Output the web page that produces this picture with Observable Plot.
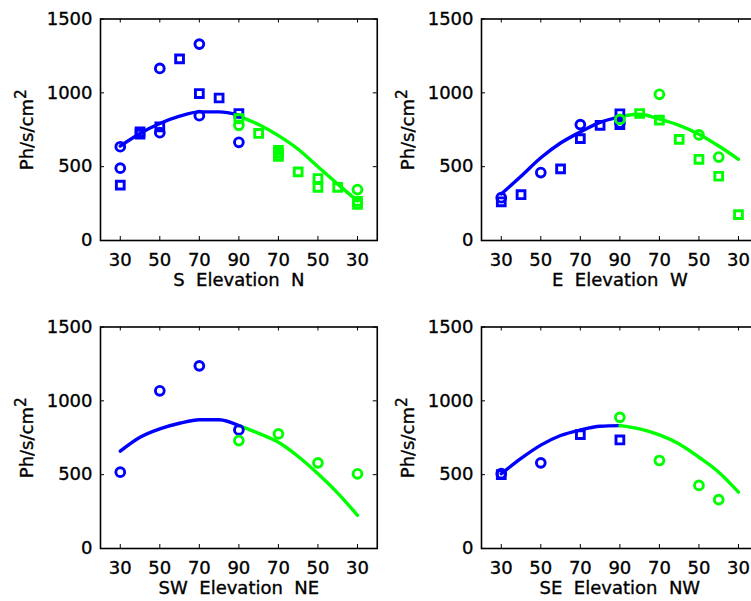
<!DOCTYPE html>
<html><head><meta charset="utf-8">
<script src="https://cdn.jsdelivr.net/npm/d3@7"></script>
<script src="https://cdn.jsdelivr.net/npm/@observablehq/plot@0.6"></script>
<style>
html,body{margin:0;padding:0;background:#fff;overflow:hidden;width:751px;height:601px}
#wrap{position:relative;width:751px;height:601px;overflow:hidden;background:#fff}
.panel{position:absolute;width:380px;height:300px}
.panel svg{max-width:none !important;width:380px;height:300px}
.panel svg g[aria-label$="tick label"] text, .panel svg g[aria-label$="axis label"] text{stroke:#000;stroke-width:0.35px}
</style></head><body><div id="wrap"></div>
<script>
// axis ticks and labels
const yTicks = [0, 500, 1000, 1500];
const xTickPos = [30, 50, 70, 90, 110, 130, 150];
const xTickLabels = ["30", "50", "70", "90", "70", "50", "30"];
const yLabelBase = "Ph/s/cm";
const yLabelSup = "2";

// panel 1: S / N   ([elevation, value])
const p1BlueSquares = [[30,375],[40,720],[40,735],[50,770],[60,1230],[70,995],[80,965],[90,860]];
const p1BlueCircles = [[30,635],[30,490],[50,1165],[50,730],[70,1330],[70,845],[90,665]];
const p1GreenSquares = [[90,825],[80,725],[70,610],[70,590],[70,570],[60,465],[50,420],[50,360],[40,360],[30,265],[30,245]];
const p1GreenCircles = [[90,780],[30,345]];
const p1BlueFit = [[30,640],[40,725],[50,792],[60,842],[70,871],[80,871],[90,849]];
const p1GreenFit = [[90,840],[80,785],[70,710],[60,618],[50,500],[40,382],[30,268]];

// panel 2: E / W
const p2BlueSquares = [[30,262],[40,310],[60,485],[70,690],[80,780],[90,858],[90,785]];
const p2BlueCircles = [[30,290],[50,460],[70,785],[90,795]];
const p2GreenSquares = [[80,860],[70,815],[60,685],[50,550],[40,435],[30,175]];
const p2GreenCircles = [[90,820],[70,990],[50,715],[40,565]];
const p2BlueFit = [[30,315],[40,435],[50,560],[60,660],[70,735],[80,800],[90,835]];
const p2GreenFit = [[90,840],[80,855],[70,822],[60,780],[50,720],[40,640],[30,550]];

// panel 3: SW / NE
const p3BlueSquares = [];
const p3BlueCircles = [[30,517],[50,1068],[70,1237],[90,803]];
const p3GreenSquares = [];
const p3GreenCircles = [[90,731],[70,776],[50,580],[30,506]];
const p3BlueFit = [[30,659],[40,753],[50,810],[60,848],[70,872],[80,872],[90,832]];
const p3GreenFit = [[90,832],[80,780],[70,719],[60,623],[50,506],[40,375],[30,225]];

// panel 4: SE / NW
const p4BlueSquares = [[30,500],[70,771],[90,735]];
const p4BlueCircles = [[30,507],[50,580]];
const p4GreenSquares = [];
const p4GreenCircles = [[90,888],[70,596],[50,427],[40,331]];
const p4BlueFit = [[30,506],[40,610],[50,700],[60,765],[70,803],[80,828],[90,832]];
const p4GreenFit = [[90,832],[80,810],[70,769],[60,708],[50,618],[40,517],[30,382]];

const panelSides = [["S","N"],["E","W"],["SW","NE"],["SE","NW"]];

const BLUE = "#0000ff", GREEN = "#00ff00";
const W = 380, H = 300, mL = 100, mR = 3.25, mT = 18.5, mB = 60;
const plotW = W - mL - mR, plotH = H - mT - mB;
const TL = 4;

const left = d => ({u: d[0], v: d[1]});
const right = d => ({u: 180 - d[0], v: d[1]});

function makePanel(sides, bSq, bCi, gSq, gCi, bFit, gFit) {
  const dotOpts = (stroke, symbol) => ({x: "u", y: "v", symbol, r: 4.4, stroke, strokeWidth: 2.9, fill: "none"});
  const svg = Plot.plot({
    width: W, height: H,
    marginLeft: mL, marginRight: mR, marginTop: mT, marginBottom: mB,
    style: {fontFamily: "DejaVu Sans", fontSize: "18px", color: "#000", background: "transparent", overflow: "visible"},
    x: {domain: [20, 160]},
    y: {domain: [0, 1500]},
    marks: [
      Plot.line(bFit.map(left), {x: "u", y: "v", stroke: BLUE, strokeWidth: 3.4, curve: "monotone-x"}),
      Plot.line(gFit.map(right), {x: "u", y: "v", stroke: GREEN, strokeWidth: 3.4, curve: "monotone-x"}),
      Plot.dot(bSq.map(left), dotOpts(BLUE, "square")),
      Plot.dot(bCi.map(left), dotOpts(BLUE, "circle")),
      Plot.dot(gSq.map(right), dotOpts(GREEN, "square")),
      Plot.dot(gCi.map(right), dotOpts(GREEN, "circle")),
      Plot.tickX(xTickPos, {x: d => d, stroke: "#000", strokeWidth: 1, insetTop: plotH - TL}),
      Plot.tickX(xTickPos, {x: d => d, stroke: "#000", strokeWidth: 1, insetBottom: plotH - TL}),
      Plot.tickY(yTicks, {y: d => d, stroke: "#000", strokeWidth: 1, insetRight: plotW - TL}),
      Plot.tickY(yTicks, {y: d => d, stroke: "#000", strokeWidth: 1, insetLeft: plotW - TL}),
      Plot.frame({stroke: "#000", strokeWidth: 1.6}),
      Plot.axisX({anchor: "bottom", ticks: xTickPos, tickSize: 0, tickPadding: 13,
        tickFormat: d => xTickLabels[xTickPos.indexOf(d)],
        label: `${sides[0]}\u00a0\u00a0Elevation\u00a0\u00a0${sides[1]}`, labelAnchor: "center", labelArrow: "none", labelOffset: 45}),
      Plot.axisY({anchor: "left", ticks: yTicks, tickSize: 0, tickPadding: 8, tickFormat: d => String(d),
        label: yLabelBase + yLabelSup, labelAnchor: "center", labelArrow: "none", labelOffset: 80})
    ]
  });
  // turn the trailing "2" of the y label into a superscript
  d3.select(svg).selectAll('g[aria-label="y-axis label"] text').each(function () {
    const t = d3.select(this);
    t.text(null);
    t.append("tspan").text(yLabelBase);
    t.append("tspan").attr("dy", "-0.45em").attr("font-size", "0.85em").text(yLabelSup);
  });
  return svg;
}

const wrap = document.getElementById("wrap");
const panels = [
  [panelSides[0], p1BlueSquares, p1BlueCircles, p1GreenSquares, p1GreenCircles, p1BlueFit, p1GreenFit, 0, 0],
  [panelSides[1], p2BlueSquares, p2BlueCircles, p2GreenSquares, p2GreenCircles, p2BlueFit, p2GreenFit, 381, 0],
  [panelSides[2], p3BlueSquares, p3BlueCircles, p3GreenSquares, p3GreenCircles, p3BlueFit, p3GreenFit, 0, 308],
  [panelSides[3], p4BlueSquares, p4BlueCircles, p4GreenSquares, p4GreenCircles, p4BlueFit, p4GreenFit, 381, 308]
];
for (const p of panels) {
  const div = document.createElement("div");
  div.className = "panel";
  div.style.left = p[7] + "px";
  div.style.top = p[8] + "px";
  div.appendChild(makePanel(p[0], p[1], p[2], p[3], p[4], p[5], p[6]));
  wrap.appendChild(div);
}
</script></body></html>
